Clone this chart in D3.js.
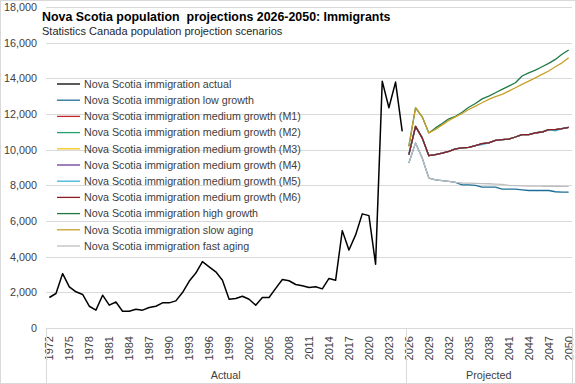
<!DOCTYPE html>
<html>
<head>
<meta charset="utf-8">
<script src="https://cdn.jsdelivr.net/npm/d3@7"></script>
<style>
  body { margin: 0; background: #fff; }
  svg { display: block; font-family: "Liberation Sans", Arial, sans-serif; }
</style>
</head>
<body>
<script>
// years on the category axis
var actualYears = d3.range(1972, 2026);
var projYears = d3.range(2026, 2051);
var allYears = actualYears.concat(projYears);

var actual = [1710, 1935, 3050, 2310, 2030, 1880, 1220, 1000, 1840, 1280,
  1460, 940, 940, 1050, 1000, 1150, 1220, 1410, 1410, 1520,
  1990, 2620, 3080, 3720, 3430, 3150, 2680, 1615, 1650, 1780,
  1615, 1280, 1710, 1710, 2220, 2720, 2650, 2440, 2365, 2270,
  2310, 2195, 2780, 2680, 5460, 4370, 5220, 6400, 6300, 3580,
  13840, 12350, 13790, 11030];

var lowGrowth = [9250, 10380, 9530, 8410, 8310, 8260, 8220, 8160, 8030, 8030,
  8000, 7900, 7900, 7900, 7790, 7790, 7790, 7750, 7710, 7710,
  7710, 7710, 7640, 7620, 7620];
var medium = [9720, 11310, 10660, 9660, 9720, 9810, 9910, 10040, 10100, 10130,
  10230, 10340, 10380, 10520, 10560, 10590, 10710, 10840, 10840, 10940,
  10990, 11120, 11120, 11180, 11250];
var mediumM5 = [9720, 11310, 10660, 9660, 9720, 9810, 9910, 10040, 10100, 10130,
  10230, 10280, 10380, 10520, 10560, 10590, 10710, 10840, 10840, 10940,
  10990, 11120, 11060, 11180, 11250];
var highGrowth = [10190, 12350, 11840, 10940, 11220, 11460, 11730, 11870, 12100, 12380,
  12590, 12850, 13000, 13190, 13380, 13560, 13750, 14130, 14310, 14460,
  14650, 14840, 15060, 15350, 15590];
var slowAging = [10190, 12350, 11840, 10940, 11130, 11390, 11640, 11840, 12030, 12250,
  12440, 12630, 12820, 12970, 13100, 13280, 13470, 13660, 13840, 14030,
  14220, 14410, 14650, 14870, 15160];
var fastAging = [9250, 10380, 9530, 8410, 8310, 8260, 8220, 8170, 8130, 8120,
  8110, 8100, 8090, 8070, 8050, 8000, 7980, 7970, 7960, 7960,
  7950, 7950, 7950, 7940, 7940];

var yTicks = d3.range(0, 18001, 2000);

var series = [
  {name: "Nova Scotia immigration actual", years: actualYears, values: actual, color: "#000000", w: 1.5},
  {name: "Nova Scotia immigration low growth", years: projYears, values: lowGrowth, color: "#1f6e99", w: 1.3},
  {name: "Nova Scotia immigration medium growth (M1)", years: projYears, values: medium, color: "#c0262b", w: 1.3},
  {name: "Nova Scotia immigration medium growth (M2)", years: projYears, values: medium, color: "#24a06b", w: 1.3},
  {name: "Nova Scotia immigration medium growth (M3)", years: projYears, values: medium, color: "#f0c419", w: 1.3},
  {name: "Nova Scotia immigration medium growth (M4)", years: projYears, values: medium, color: "#6d3a96", w: 1.3},
  {name: "Nova Scotia immigration medium growth (M5)", years: projYears, values: mediumM5, color: "#3cb4d8", w: 1.3},
  {name: "Nova Scotia immigration medium growth (M6)", years: projYears, values: medium, color: "#8b1e24", w: 1.3},
  {name: "Nova Scotia immigration high growth", years: projYears, values: highGrowth, color: "#1e7a45", w: 1.3},
  {name: "Nova Scotia immigration slow aging", years: projYears, values: slowAging, color: "#c9a029", w: 1.3},
  {name: "Nova Scotia immigration fast aging", years: projYears, values: fastAging, color: "#bfbfbf", w: 1.3}
];

var W = 576, H = 384;
var plotLeft = 46, plotRight = 572, plotTop = 7, plotBottom = 328;

var svg = d3.select("body").append("svg").attr("width", W).attr("height", H);

svg.append("rect").attr("x", 0.5).attr("y", 0.5).attr("width", W - 1).attr("height", H - 1)
  .attr("fill", "#fff").attr("stroke", "#d9d9d9");

var x = d3.scaleBand().domain(allYears).range([plotLeft, plotRight]).padding(0);
var y = d3.scaleLinear().domain([0, 18000]).range([plotBottom, plotTop]);

// gridlines
svg.append("g").selectAll("line").data(yTicks.slice(1)).enter().append("line")
  .attr("x1", plotLeft).attr("x2", plotRight)
  .attr("y1", function(d){ return Math.round(y(d)) + 0.5; })
  .attr("y2", function(d){ return Math.round(y(d)) + 0.5; })
  .attr("stroke", "#d9d9d9").attr("stroke-width", 1);

// y axis labels
var yAxis = svg.append("g").attr("transform", "translate(" + (plotLeft - 9) + ",0)")
  .call(d3.axisLeft(y).tickValues(yTicks).tickSize(0).tickFormat(d3.format(",")));
yAxis.select(".domain").remove();
yAxis.selectAll("text").attr("x", 0).attr("font-size", 10.8).attr("fill", "#404040")
  .style("font-family", "inherit");

// x axis
var xAxis = svg.append("g").attr("transform", "translate(0," + plotBottom + ")")
  .call(d3.axisBottom(x).tickValues(allYears.filter(function(d){ return (d - 1972) % 3 === 0; })).tickSize(0));
xAxis.select(".domain").remove();
xAxis.selectAll("text")
  .attr("transform", "rotate(-90)")
  .attr("x", -8).attr("y", 0).attr("dy", "0.35em")
  .style("text-anchor", "end")
  .attr("font-size", 11).attr("fill", "#404040")
  .style("font-family", "inherit");

// axis line and group dividers
svg.append("line").attr("x1", plotLeft).attr("x2", plotRight).attr("y1", plotBottom + 0.5).attr("y2", plotBottom + 0.5)
  .attr("stroke", "#d9d9d9");
var splitX = x(2026);
[plotLeft, splitX, plotRight].forEach(function(px){
  svg.append("line").attr("x1", Math.round(px) + 0.5).attr("x2", Math.round(px) + 0.5)
    .attr("y1", plotBottom).attr("y2", H).attr("stroke", "#d9d9d9");
});
svg.append("text").attr("x", (plotLeft + splitX) / 2).attr("y", 379).attr("text-anchor", "middle")
  .attr("font-size", 10.8).attr("fill", "#404040").text("Actual");
svg.append("text").attr("x", (splitX + plotRight) / 2).attr("y", 379).attr("text-anchor", "middle")
  .attr("font-size", 10.8).attr("fill", "#404040").text("Projected");

// lines
var line = d3.line()
  .x(function(d){ return x(d[0]) + x.bandwidth() / 2; })
  .y(function(d){ return y(d[1]); });

series.forEach(function(s){
  svg.append("path")
    .datum(d3.zip(s.years, s.values))
    .attr("fill", "none")
    .attr("stroke", s.color)
    .attr("stroke-width", s.w)
    .attr("stroke-linejoin", "round")
    .attr("d", line);
});

// title
svg.append("text").attr("x", 42).attr("y", 20.5).attr("font-size", 12.4).attr("font-weight", "bold")
  .attr("fill", "#000").style("white-space", "pre")
  .text("Nova Scotia population  projections 2026-2050: Immigrants");
svg.append("text").attr("x", 42).attr("y", 35).attr("font-size", 11)
  .attr("fill", "#262626").text("Statistics Canada population projection scenarios");

// legend
var legend = svg.append("g").selectAll("g").data(series).enter().append("g")
  .attr("transform", function(d, i){ return "translate(57," + (84 + i * 16.2) + ")"; });
legend.append("line").attr("x1", 0).attr("x2", 23).attr("y1", 0).attr("y2", 0)
  .attr("stroke", function(d){ return d.color; }).attr("stroke-width", 1.3);
legend.append("text").attr("x", 27).attr("y", 0).attr("dy", "0.35em")
  .attr("font-size", 10.7).attr("fill", "#404040")
  .text(function(d){ return d.name; });
</script>
</body>
</html>
